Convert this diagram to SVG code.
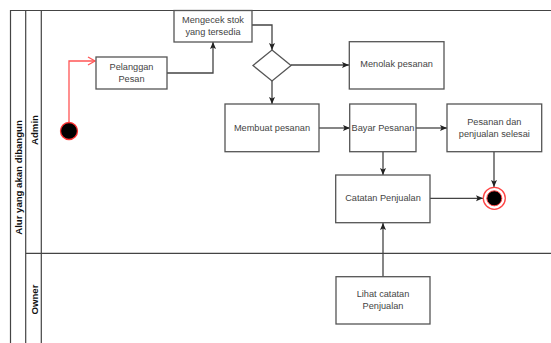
<svg xmlns="http://www.w3.org/2000/svg" width="551" height="343" viewBox="0 0 551 343">
<style>
.lane{fill:none;stroke:#444;stroke-width:1.2}
.box{fill:#fff;stroke:#555;stroke-width:1.3}
.t{font-family:"Liberation Sans",Arial,sans-serif;font-size:9.2px;fill:#444;text-anchor:middle;dominant-baseline:central}
.lb{font-family:"Liberation Sans",Arial,sans-serif;font-weight:bold;font-size:9.6px;fill:#111;text-anchor:middle;dominant-baseline:central}
.c{fill:none;stroke:#444;stroke-width:1.3}
</style>
<defs>
<marker id="a" markerUnits="userSpaceOnUse" markerWidth="8" markerHeight="8" refX="7" refY="4" orient="auto">
<path d="M0,1 L7,4 L0,7 L1.5,4 Z" fill="#222"/>
</marker>
<marker id="ar" markerUnits="userSpaceOnUse" markerWidth="10" markerHeight="10" refX="8" refY="5" orient="auto">
<path d="M1,1 L8,5 L1,9" fill="none" stroke="#ff5555" stroke-width="1.3"/>
</marker>
</defs>
<rect width="551" height="343" fill="#fff"/>
<g id="pool">
<path class="lane" d="M10.5,343 V10.5 H551 M25.7,10.5 V343 M41.3,10.5 V343 M25.7,253.3 H551"/>
<text class="lb" transform="translate(18.5,177.5) rotate(-90)">Alur yang akan dibangun</text>
<text class="lb" transform="translate(34,130) rotate(-90)">Admin</text>
<text class="lb" transform="translate(34,299.5) rotate(-90)">Owner</text>
</g>
<g id="connectors">
<path d="M69,122 V61 H95" fill="none" stroke="#ff5555" stroke-width="1.3" marker-end="url(#ar)"/>
<path class="c" d="M167,73 H213 V42" marker-end="url(#a)"/>
<path class="c" d="M252,25 H272 V50" marker-end="url(#a)"/>
<path class="c" d="M291,65 H349" marker-end="url(#a)"/>
<path class="c" d="M272,81 V104" marker-end="url(#a)"/>
<path class="c" d="M319,128 H350" marker-end="url(#a)"/>
<path class="c" d="M416,128 H447" marker-end="url(#a)"/>
<path class="c" d="M383,152 V175" marker-end="url(#a)"/>
<path class="c" d="M494,152 V187" marker-end="url(#a)"/>
<path class="c" d="M430,198.3 H483" marker-end="url(#a)"/>
<path class="c" d="M383,277 V223" marker-end="url(#a)"/>
</g>
<g id="start">
<circle cx="69" cy="131" r="8.5" fill="#000" stroke="#ff3333" stroke-width="1.3"/>
</g>
<g id="pelanggan">
<rect class="box" x="96" y="57" width="71" height="32"/>
<text class="t" x="131.5" y="67">Pelanggan</text>
<text class="t" x="131.5" y="78.5">Pesan</text>
</g>
<g id="mengecek">
<rect class="box" x="174" y="10.5" width="78" height="31.5"/>
<text class="t" x="213" y="20">Mengecek stok</text>
<text class="t" x="213" y="32">yang tersedia</text>
</g>
<g id="decision">
<path class="box" d="M272,50 L291,65.5 L272,81 L253,65.5 Z"/>
</g>
<g id="menolak">
<rect class="box" x="349.3" y="41.7" width="94.7" height="47.3"/>
<text class="t" x="396.6" y="64.3">Menolak pesanan</text>
</g>
<g id="membuat">
<rect class="box" x="225" y="104" width="94" height="47.7"/>
<text class="t" x="272" y="127.7">Membuat pesanan</text>
</g>
<g id="bayar">
<rect class="box" x="349.7" y="104" width="66.3" height="47.7"/>
<text class="t" x="383" y="127.7">Bayar Pesanan</text>
</g>
<g id="selesai">
<rect class="box" x="447" y="104" width="94.7" height="47.7"/>
<text class="t" x="494.3" y="122.3">Pesanan dan</text>
<text class="t" x="494.3" y="134">penjualan selesai</text>
</g>
<g id="catatan">
<rect class="box" x="335.7" y="175" width="94.3" height="47.7"/>
<text class="t" x="383" y="198.3">Catatan Penjualan</text>
</g>
<g id="lihat">
<rect class="box" x="336" y="276.7" width="94" height="47.3"/>
<text class="t" x="383" y="294">Lihat catatan</text>
<text class="t" x="383" y="306">Penjualan</text>
</g>
<g id="end">
<circle cx="494.3" cy="198.3" r="11" fill="#fff" stroke="#ff4444" stroke-width="1.3"/>
<circle cx="494.3" cy="198.3" r="7.5" fill="#000" stroke="#ff4444" stroke-width="1"/>
</g>
</svg>
